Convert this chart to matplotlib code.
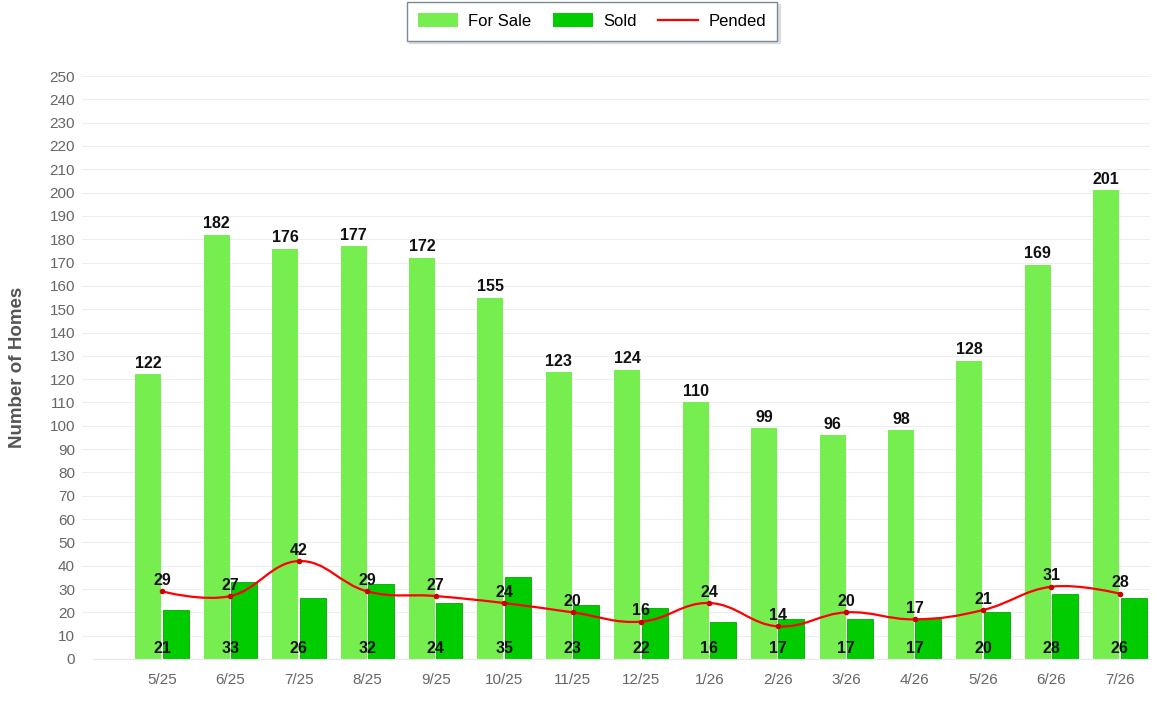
import matplotlib
matplotlib.use("Agg")
import matplotlib.pyplot as plt
from matplotlib.path import Path
from matplotlib.patches import PathPatch, Patch
from matplotlib.lines import Line2D
import numpy as np

months = ["5/25", "6/25", "7/25", "8/25", "9/25", "10/25", "11/25", "12/25",
          "1/26", "2/26", "3/26", "4/26", "5/26", "6/26", "7/26"]
for_sale = [122, 182, 176, 177, 172, 155, 123, 124, 110, 99, 96, 98, 128, 169, 201]
sold = [21, 33, 26, 32, 24, 35, 23, 22, 16, 17, 17, 17, 20, 28, 26]
pended = [29, 27, 42, 29, 27, 24, 20, 16, 24, 14, 20, 17, 21, 31, 28]

C_SALE = "#77EE4F"
C_SOLD = "#00CC00"
C_PEND = "#FF0000"

W, H = 1162, 703
fig = plt.figure(figsize=(W / 100, H / 100), dpi=100)
ax = fig.add_axes([82 / W, (H - 659) / H, (1150 - 82) / W, (659 - 76) / H])

x = np.arange(len(months))
bw = 0.38
off = 0.2

ax.bar(x - off, for_sale, width=bw, color=C_SALE, zorder=2)
ax.bar(x + off, sold, width=bw, color=C_SOLD, edgecolor="#00AA00", linewidth=0.6, zorder=2)


def spline_path(xs, ys, smoothing=1.5):
    denom = smoothing + 1
    n = len(xs)
    lc = [None] * n
    rc = [None] * n
    for i in range(n):
        if i == 0 or i == n - 1:
            lc[i] = (xs[i], ys[i])
            rc[i] = (xs[i], ys[i])
            continue
        px, py = xs[i], ys[i]
        lx, ly = xs[i - 1], ys[i - 1]
        nx, ny = xs[i + 1], ys[i + 1]
        lcx = (smoothing * px + lx) / denom
        lcy = (smoothing * py + ly) / denom
        rcx = (smoothing * px + nx) / denom
        rcy = (smoothing * py + ny) / denom
        if rcx != lcx:
            corr = ((rcy - lcy) * (rcx - px)) / (rcx - lcx) + py - rcy
            lcy += corr
            rcy += corr
        lc[i] = (lcx, lcy)
        rc[i] = (rcx, rcy)
    verts = [(xs[0], ys[0])]
    codes = [Path.MOVETO]
    for i in range(1, n):
        verts += [rc[i - 1], lc[i], (xs[i], ys[i])]
        codes += [Path.CURVE4] * 3
    return Path(verts, codes)


ax.add_patch(PathPatch(spline_path(list(x), pended), facecolor="none",
                       edgecolor=C_PEND, linewidth=1.6, zorder=3))
ax.plot(x, pended, linestyle="none", marker="o", markersize=3, color="#CC0000", zorder=4)

lab_font = dict(family=["Liberation Sans", "DejaVu Sans"], fontsize=11.5,
                fontweight="bold", color="#111111")
for i in range(len(months)):
    ax.text(x[i] - off, for_sale[i] + 1.5, str(for_sale[i]), ha="center", va="bottom", zorder=5, **lab_font)
    ax.text(x[i], 4.6, str(sold[i]), ha="center", va="center", zorder=5, **lab_font)
    ax.text(x[i], pended[i] + 1.5, str(pended[i]), ha="center", va="bottom", zorder=5, **lab_font)

ax.set_xlim(-1.17, 14.44)
ax.set_ylim(0, 250)
ax.set_yticks(np.arange(0, 251, 10))
ax.set_xticks(x)
ax.set_xticklabels(months)
tick_font = ["Liberation Sans Narrow", "DejaVu Sans Condensed", "Liberation Sans", "DejaVu Sans"]
for lbl in ax.get_yticklabels() + ax.get_xticklabels():
    lbl.set_family(tick_font)
    lbl.set_fontsize(11)
    lbl.set_color("#666666")
ax.tick_params(axis="y", length=0, pad=5)
ax.tick_params(axis="x", length=0, pad=10)
ax.grid(axis="y", color="#EEEEEE", linewidth=0.8, zorder=0)
ax.set_axisbelow(True)
for s in ["top", "right", "left"]:
    ax.spines[s].set_visible(False)
ax.spines["bottom"].set_color("#E6E6E6")
ax.spines["bottom"].set_bounds(-1.0, 14.44)

fig.text(18 / W, (H - 367) / H, "Number of Homes", rotation=90, ha="center", va="center",
         family=["Liberation Sans", "DejaVu Sans"], fontsize=13.5, fontweight="bold", color="#555555")

handles = [Patch(facecolor=C_SALE, edgecolor="none"),
           Patch(facecolor=C_SOLD, edgecolor="none"),
           Line2D([0], [0], color=C_PEND, linewidth=1.6)]
leg = fig.legend(handles, ["For Sale", "Sold", "Pended"], loc="center",
                 bbox_to_anchor=(592 / W, (H - 21) / H), ncol=3, frameon=True,
                 fancybox=False, shadow={"color": "#DDDDDD", "alpha": 1.0, "ox": 1.5, "oy": -1.5},
                 edgecolor="#7A8A9A", framealpha=1.0,
                 prop={"family": ["Liberation Sans", "DejaVu Sans"], "size": 12},
                 handlelength=2.4, handleheight=0.9, columnspacing=1.3, handletextpad=0.6,
                 borderpad=0.7)
leg.get_frame().set_linewidth(1.0)

fig.savefig("out.png", dpi=100, facecolor="white")
